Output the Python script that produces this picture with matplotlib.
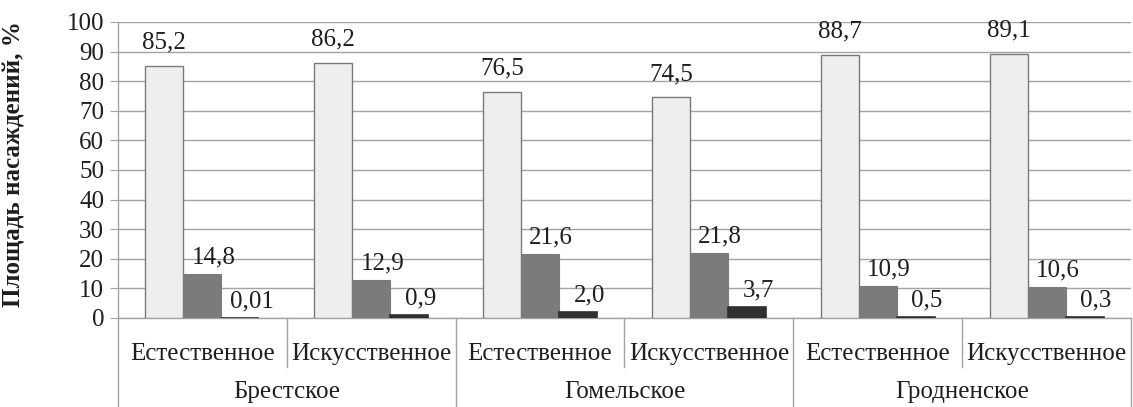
import matplotlib
matplotlib.use("Agg")
import matplotlib.pyplot as plt
from matplotlib.transforms import blended_transform_factory
from matplotlib.lines import Line2D

plt.rcParams["font.family"] = ["Liberation Serif", "DejaVu Serif"]

# Data
regions = ["Брестское", "Гомельское", "Гродненское"]
origins = ["Естественное", "Искусственное"]
series_light = [85.2, 86.2, 76.5, 74.5, 88.7, 89.1]
series_mid = [14.8, 12.9, 21.6, 21.8, 10.9, 10.6]
series_dark = [0.01, 0.9, 2.0, 3.7, 0.5, 0.3]
y_label = "Площадь насаждений, %"
y_ticks = list(range(0, 101, 10))

def fmt(v):
    s = f"{v:.2f}" if v < 0.1 else f"{v:.1f}"
    return s.replace(".", ",")

FS = 18
TXT = "#1e1e1e"

fig = plt.figure(figsize=(11.33, 4.07), dpi=100)
ax = fig.add_axes([118 / 1133, 89 / 407, (1131 - 118) / 1133, 296 / 407])

n = len(series_light)
x = list(range(n))
w = 0.225
grid_c = "#a3a3a3"

styles = [
    (series_light, -w, dict(color="#eeeeee", edgecolor="#7a7a7a", linewidth=1.0), 9, 0),
    (series_mid, 0, dict(color="#7b7b7b", edgecolor="#7b7b7b", linewidth=0.8), 4, 8),
    (series_dark, w, dict(color="#2f2f2f", edgecolor="#2f2f2f", linewidth=1.2), 4, 8),
]
for vals, off, kw, dy, dx in styles:
    xs = [xi + off for xi in x]
    ax.bar(xs, vals, width=w, zorder=3, **kw)
    for xi, v in zip(xs, vals):
        ax.annotate(fmt(v), (xi, v), xytext=(dx, dy), textcoords="offset points",
                    ha="center", va="bottom", fontsize=FS, color=TXT, zorder=4)

ax.set_xlim(-0.5, n - 0.5)
ax.set_ylim(0, 100)
ax.set_yticks(y_ticks)
ax.set_yticklabels([str(t) for t in y_ticks], fontsize=FS, color=TXT)
ax.yaxis.grid(True, color=grid_c, linewidth=1.0, zorder=0)
ax.set_axisbelow(True)
ax.tick_params(axis="y", length=6, color=grid_c, pad=4)
ax.set_xticks([])
for s in ["top", "right"]:
    ax.spines[s].set_visible(False)
for s in ["left", "bottom"]:
    ax.spines[s].set_color(grid_c)
    ax.spines[s].set_linewidth(1.0)

ax.set_ylabel(y_label, fontsize=FS, fontweight="bold", color=TXT)
ax.yaxis.set_label_coords(-92 / 1013, 0.52)

# Two-level category axis
tr = blended_transform_factory(ax.transData, ax.transAxes)
for i in range(n):
    ax.text(i, -0.12, origins[i % 2], transform=tr, ha="center", va="center",
            fontsize=FS, color=TXT)
for g, name in enumerate(regions):
    ax.text(2 * g + 0.5, -0.25, name, transform=tr, ha="center", va="center",
            fontsize=FS, color=TXT)

bottom_fig = -89 / 296
for b in range(n):
    xb = b - 0.5
    y_end = bottom_fig if b % 2 == 0 else -0.165
    ax.add_line(Line2D([xb, xb], [0, y_end], transform=tr, color=grid_c,
                       linewidth=1.0, clip_on=False))
ax.add_line(Line2D([n - 0.5, n - 0.5], [0, bottom_fig], transform=tr, color=grid_c,
                   linewidth=1.0, clip_on=False))

fig.savefig("out.png", dpi=100)
